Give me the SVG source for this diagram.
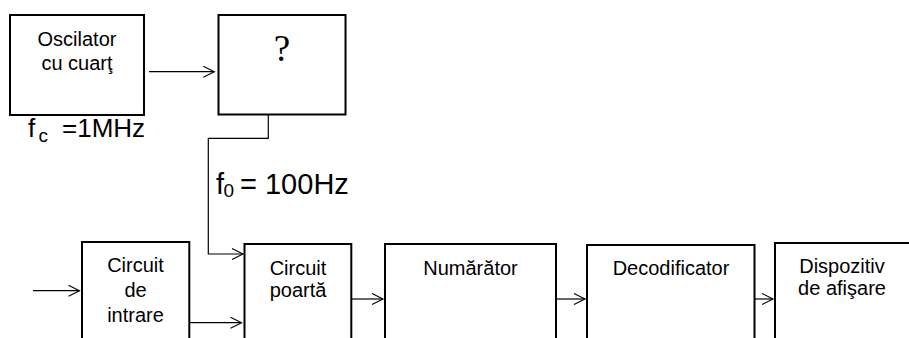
<svg xmlns="http://www.w3.org/2000/svg" width="909" height="338" viewBox="0 0 909 338">
  <defs>
    <marker id="arr" markerUnits="userSpaceOnUse" markerWidth="14" markerHeight="14" viewBox="-12 -7 14 14" refX="0" refY="0" orient="auto">
      <path d="M-11,-5.5 L0,0 L-11,5.5" fill="none" stroke="#000" stroke-width="1.1"/>
    </marker>
    <style>
      .box { fill: none; stroke: #000; stroke-width: 2; }
      .lbl { font-family: "Liberation Sans", Arial, sans-serif; font-size: 20px; fill: #000; text-anchor: middle; }
      .big { font-family: "Liberation Sans", Arial, sans-serif; fill: #000; }
      .wire { fill: none; stroke: #000; stroke-width: 1.2; }
      .arrow { fill: none; stroke: #000; stroke-width: 1.2; marker-end: url(#arr); }
    </style>
  </defs>
  <rect width="909" height="338" fill="#fff"/>

  <g id="oscilator">
    <rect class="box" x="10" y="15" width="134" height="100"/>
    <text class="lbl" x="77" y="46">Oscilator</text>
    <text class="lbl" x="77" y="70">cu cuarţ</text>
  </g>

  <g id="necunoscut">
    <rect class="box" x="218.5" y="15" width="127" height="99.5"/>
    <text x="282" y="61" font-family="'Liberation Serif', 'Times New Roman', serif" font-size="37" text-anchor="middle">?</text>
  </g>

  <g id="circuit-intrare">
    <path class="box" d="M82,339 V242 H189.3 V339"/>
    <text class="lbl" x="135.5" y="272">Circuit</text>
    <text class="lbl" x="135.5" y="297">de</text>
    <text class="lbl" x="135.5" y="322">intrare</text>
  </g>

  <g id="circuit-poarta">
    <path class="box" d="M244.5,339 V244 H351.3 V339"/>
    <text class="lbl" x="298" y="275">Circuit</text>
    <text class="lbl" x="298" y="297">poartă</text>
  </g>

  <g id="numarator">
    <path class="box" d="M385,339 V244 H556 V339"/>
    <text class="lbl" x="470.5" y="275">Numărător</text>
  </g>

  <g id="decodificator">
    <path class="box" d="M587,339 V245 H754.5 V339"/>
    <text class="lbl" x="671" y="275">Decodificator</text>
  </g>

  <g id="dispozitiv">
    <path class="box" d="M775,339 V243 H910"/>
    <text class="lbl" x="842" y="273">Dispozitiv</text>
    <text class="lbl" x="842" y="295">de afişare</text>
  </g>

  <g id="labels">
    <text class="big" font-size="26"><tspan x="28" y="137">f</tspan><tspan x="38.5" y="142" font-size="19">c</tspan><tspan x="62" y="137">=1MHz</tspan></text>
    <text class="big" font-size="29"><tspan x="216" y="194">f</tspan><tspan x="223.5" y="197" font-size="19">0</tspan><tspan x="240" y="194">= 100Hz</tspan></text>
  </g>

  <g id="connectors">
    <line class="arrow" x1="149" y1="71.7" x2="214.3" y2="71.7"/>
    <path class="arrow" d="M268.3,115 V138.3 H208.3 V254 H243"/>
    <line class="arrow" x1="33" y1="290.7" x2="79.5" y2="290.7"/>
    <line class="arrow" x1="189.3" y1="322.7" x2="241.5" y2="322.7"/>
    <line class="arrow" x1="351.3" y1="299" x2="383" y2="299"/>
    <line class="arrow" x1="556" y1="299" x2="585" y2="299"/>
    <line class="arrow" x1="754.5" y1="299" x2="773" y2="299"/>
  </g>
</svg>
